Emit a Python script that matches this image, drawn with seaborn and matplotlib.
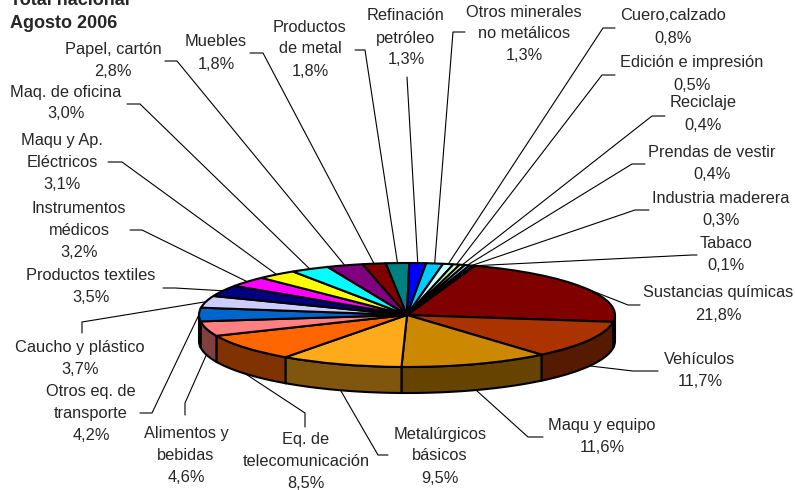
import numpy as np
import matplotlib
matplotlib.use("Agg")
import matplotlib.pyplot as plt
import matplotlib.colors as mcolors
import seaborn as sns

# participación por sector industrial, total nacional agosto 2006
sectores = ["Sustancias químicas", "Vehículos", "Maqu y equipo", "Metalúrgicos\nbásicos",
            "Eq. de\ntelecomunicación", "Alimentos y\nbebidas", "Otros eq. de\ntransporte",
            "Caucho y plástico", "Productos textiles", "Instrumentos\nmédicos",
            "Maqu y Ap.\nEléctricos", "Maq. de oficina", "Papel, cartón", "Muebles",
            "Productos\nde metal", "Refinación\npetróleo", "Otros minerales\nno metálicos",
            "Cuero,calzado", "Edición e impresión", "Reciclaje", "Prendas de vestir",
            "Industria maderera", "Tabaco"]
porcentajes = [21.8, 11.7, 11.6, 9.5, 8.5, 4.6, 4.2, 3.7, 3.5, 3.2, 3.1, 3.0, 2.8,
               1.8, 1.8, 1.3, 1.3, 0.8, 0.5, 0.4, 0.4, 0.3, 0.1]
colores = ["#800000", "#AA3300", "#CC8800", "#FFAA1A", "#FF6600", "#FF8080", "#0066CC",
           "#CCCCFF", "#000080", "#FF00FF", "#FFFF00", "#00FFFF", "#800080", "#800000",
           "#008080", "#0000FF", "#00CCFF", "#CCFFFF", "#CCFFCC", "#FFFF99", "#99CCFF",
           "#FF99CC", "#CC99FF"]

# posición de las etiquetas en pixeles: centro del bloque, inicio y codo de la guía
pos_etiquetas = [
    (718, 303.5, (640, 305), (628, 305)),
    (700, 369.5, (658, 371), (633, 371)),
    (602, 436, (543, 437), (528, 437)),
    (440, 455.5, (388, 455), (378, 455)),
    (306, 460.5, (305, 427), (305, 413)),
    (186, 454.5, (185, 415), (185, 403)),
    (91, 413, (140, 413), (152, 413)),
    (80, 358, (82, 333), (82, 322)),
    (91, 286.5, (163, 288), (175, 288)),
    (79, 230, (130, 230), (142, 230)),
    (62, 162, (108, 162), (122, 162)),
    (66, 102.5, (127, 104), (140, 104)),
    (113, 60, (165, 61), (177, 61)),
    (216, 52.5, (250, 53), (263, 53)),
    (310, 48.5, (355, 50), (365, 50)),
    (406, 37.5, (407, 77), (407, 77)),
    (524, 33.5, (465, 32), (453, 32)),
    (673, 26.5, (615, 28), (603, 28)),
    (692, 73.5, (615, 75), (602, 75)),
    (703, 113.5, (665, 116), (652, 116)),
    (712, 163, (645, 164), (632, 164)),
    (721, 209, (649, 210), (635, 210)),
    (726, 253.5, (697, 255), (692, 255)),
]

CX, CY, RX, RY = 407, 315, 208, 52
PROF = 0.5      # espesor del disco
INICIO = 19     # grados desde las 12 en sentido horario
PASO = 22       # interlineado de etiquetas en px


def px(x, y):
    return (x - CX) / RX, (CY - y) / RY


sns.set_style("white")
plt.rcParams["font.family"] = ["Liberation Sans", "DejaVu Sans"]

fig = plt.figure(figsize=(7.95, 4.9), dpi=100)
ax = fig.add_axes([0, 0, 1, 1])
wedges, _ = ax.pie(porcentajes, colors=colores, startangle=90 - INICIO, counterclock=False,
                   wedgeprops=dict(edgecolor="black", linewidth=1.5))
ax.set_aspect("auto")
ax.set_xlim(px(0, 0)[0], px(795, 0)[0])
ax.set_ylim(px(0, 490)[1], px(0, 0)[1])
ax.axis("off")

# pared lateral (mitad frontal del disco)
for w, c in zip(wedges, colores):
    for a, b in [(-540, -360), (-180, 0), (180, 360)]:
        lo, hi = max(w.theta1, a), min(w.theta2, b)
        if hi <= lo:
            continue
        t = np.radians(np.linspace(lo, hi, 80))
        xs = np.concatenate([np.cos(t), np.cos(t[::-1])])
        ys = np.concatenate([np.sin(t), np.sin(t[::-1]) - PROF])
        oscuro = tuple(0.5 * v for v in mcolors.to_rgb(c))
        ax.fill(xs, ys, facecolor=oscuro, edgecolor="black", linewidth=1.5, zorder=0.5)

# etiquetas y líneas guía
for w, nombre, pct, (cx, cy, p0, p1) in zip(wedges, sectores, porcentajes, pos_etiquetas):
    m = np.radians((w.theta1 + w.theta2) / 2)
    ex, ey = np.cos(m), np.sin(m)
    if ey < 0:
        ey -= PROF
    (x0, y0), (x1, y1) = px(*p0), px(*p1)
    ax.plot([x0, x1, ex], [y0, y1, ey], color="black", lw=0.8, zorder=3)

    lineas = nombre.split("\n") + [f"{pct:.1f}%".replace(".", ",")]
    n = len(lineas)
    for k, linea in enumerate(lineas):
        y = cy + (k - (n - 1) / 2) * PASO
        ax.text(*px(cx, y + 5), linea, ha="center", va="baseline", fontsize=11.8)

ax.text(*px(10, 5), "Total nacional", ha="left", va="baseline", fontsize=13, fontweight="bold")
ax.text(*px(10, 28), "Agosto 2006", ha="left", va="baseline", fontsize=13, fontweight="bold")

fig.savefig("out.png", dpi=100)
